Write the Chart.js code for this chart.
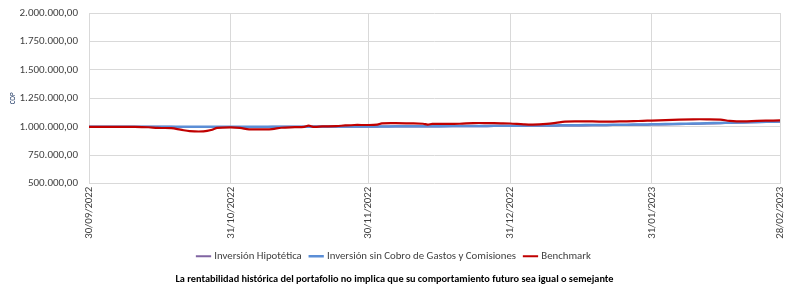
<!DOCTYPE html>
<html>
<head>
<meta charset="utf-8">
<script src="https://cdn.jsdelivr.net/npm/chart.js@4.4.0/dist/chart.umd.min.js"></script>
<style>
  html, body { margin: 0; padding: 0; background: #fff; }
  #wrap { width: 785px; height: 288px; }
</style>
</head>
<body>
<div id="wrap"><canvas id="chart" width="785" height="288"></canvas></div>
<script>
// Days since 30/09/2022
const dayOffsets = [0, 5, 10, 13, 15, 18, 20, 22, 25, 27, 28, 31, 33, 35, 38, 40, 42, 45, 47, 48, 49, 51, 54, 56, 58, 61,
    63, 64, 67, 70, 73, 74, 75, 78, 81, 84, 87, 90, 92, 95, 97, 100, 102, 104, 107, 110, 113, 116, 119, 121, 123,
    126, 129, 132, 135, 138, 140, 143, 146, 148, 151];

const benchmark = [1000000, 1000000, 999500, 996000, 990000, 988000, 975000, 962000, 960000, 975000, 990000, 995000,
    990000, 978000, 978000, 980000, 992000, 997000, 1000000, 1010000, 1000000, 1003000, 1006000, 1012000, 1016000,
    1016000, 1020000, 1030000, 1032000, 1030000, 1027000, 1020000, 1025000, 1025000, 1027000, 1033000, 1033000,
    1031000, 1029000, 1022000, 1020000, 1026000, 1035000, 1046000, 1048000, 1047000, 1046000, 1047000, 1050000,
    1052000, 1055000, 1058000, 1063000, 1066000, 1066000, 1063000, 1052000, 1047000, 1052000, 1054000, 1056000];

const sinCobro = [1000000, 1000000, 1000000, 1000000, 1000000, 1000000, 1000000, 1000000, 1000000, 1000000, 1000000,
    1000200, 1000300, 1000500, 1000700, 1000900, 1001000, 1001300, 1001500, 1001600, 1001700, 1001900, 1002200,
    1002500, 1002800, 1003100, 1003400, 1003600, 1004000, 1004500, 1005000, 1005200, 1005400, 1006000, 1006600,
    1007300, 1008000, 1008800, 1009300, 1010200, 1010800, 1011800, 1012500, 1013200, 1014300, 1015500, 1016800,
    1018200, 1019700, 1020800, 1022000, 1024000, 1026000, 1028500, 1031000, 1034000, 1036000, 1039000, 1042000,
    1044000, 1046000];

const hipotetica = [1000000, 1000000, 999800, 999700, 999600, 999500, 999400, 999300, 999200, 999100, 999000,
    999100, 999200, 999300, 999400, 999500, 999600, 999800, 999900, 1000000, 1000100, 1000300, 1000500,
    1000800, 1001000, 1001300, 1001600, 1001800, 1002200, 1002600, 1003100, 1003300, 1003500, 1004000, 1004600,
    1005300, 1006000, 1006700, 1007200, 1008100, 1008700, 1009600, 1010300, 1011000, 1012000, 1013200, 1014400,
    1015800, 1017200, 1018300, 1019500, 1021400, 1023400, 1025800, 1028400, 1031500, 1034000, 1037500, 1040500,
    1042500, 1044500];

const tickDays = [0, 31, 61, 92, 123, 151];
const tickLabels = ['30/09/2022', '31/10/2022', '30/11/2022', '31/12/2022', '31/01/2023', '28/02/2023'];

const FONT = 'Carlito, Lato, "Liberation Sans", sans-serif';

function toPoints(values) {
    return dayOffsets.map((d, i) => ({ x: d, y: values[i] }));
}

function fmtCOP(v) {
    return v.toLocaleString('de-DE', { minimumFractionDigits: 2, maximumFractionDigits: 2 });
}

new Chart(document.getElementById('chart'), {
    type: 'line',
    data: {
        datasets: [
            {
                label: 'Inversión Hipotética',
                data: toPoints(hipotetica),
                borderColor: '#8064A2',
                backgroundColor: '#8064A2',
                borderWidth: 2,
                order: 3
            },
            {
                label: 'Inversión sin Cobro de Gastos y Comisiones',
                data: toPoints(sinCobro),
                borderColor: '#5B8ED6',
                backgroundColor: '#5B8ED6',
                borderWidth: 2.5,
                order: 2
            },
            {
                label: 'Benchmark',
                data: toPoints(benchmark),
                borderColor: '#C00000',
                backgroundColor: '#C00000',
                borderWidth: 2.2,
                order: 1
            }
        ]
    },
    options: {
        responsive: false,
        animation: false,
        layout: { padding: { left: 9, right: 5, top: 13, bottom: 0 } },
        elements: {
            point: { radius: 0 },
            line: { tension: 0.35 }
        },
        plugins: {
            tooltip: { enabled: false },
            legend: {
                position: 'bottom',
                labels: {
                    font: { family: FONT, size: 10.8 },
                    color: '#404040',
                    usePointStyle: true,
                    pointStyle: 'line',
                    boxWidth: 18,
                    padding: 9,
                    sort: (a, b) => a.datasetIndex - b.datasetIndex
                }
            },
            title: {
                display: true,
                position: 'bottom',
                text: 'La rentabilidad histórica del portafolio no implica que su comportamiento futuro sea igual o semejante',
                font: { family: FONT, size: 10.3, weight: 'bold' },
                color: '#000',
                padding: { top: 2, bottom: 2 }
            }
        },
        scales: {
            x: {
                type: 'linear',
                min: 0,
                max: 151,
                afterBuildTicks: axis => {
                    axis.ticks = tickDays.map(v => ({ value: v }));
                },
                // let the last date label run off the edge, as in the original
                afterFit: axis => {
                    axis.paddingLeft = 0;
                    axis.paddingRight = 0;
                },
                ticks: {
                    autoSkip: false,
                    minRotation: 90,
                    maxRotation: 90,
                    font: { family: FONT, size: 10.8 },
                    color: '#404040',
                    padding: 3,
                    callback: value => tickLabels[tickDays.indexOf(value)]
                },
                grid: { color: '#D9D9D9', drawTicks: false },
                border: { display: false }
            },
            y: {
                min: 500000,
                max: 2000000,
                afterFit: axis => {
                    axis.width = 80;
                    axis.paddingTop = 0;
                    axis.paddingBottom = 0;
                },
                ticks: {
                    stepSize: 250000,
                    font: { family: FONT, size: 11 },
                    color: '#404040',
                    padding: 11,
                    callback: v => fmtCOP(v)
                },
                title: {
                    display: true,
                    text: 'COP',
                    font: { family: FONT, size: 7 },
                    color: '#1F3864',
                    padding: { top: 0, bottom: 0 }
                },
                grid: { color: '#D9D9D9', drawTicks: false },
                border: { display: false }
            }
        }
    }
});
</script>
</body>
</html>
